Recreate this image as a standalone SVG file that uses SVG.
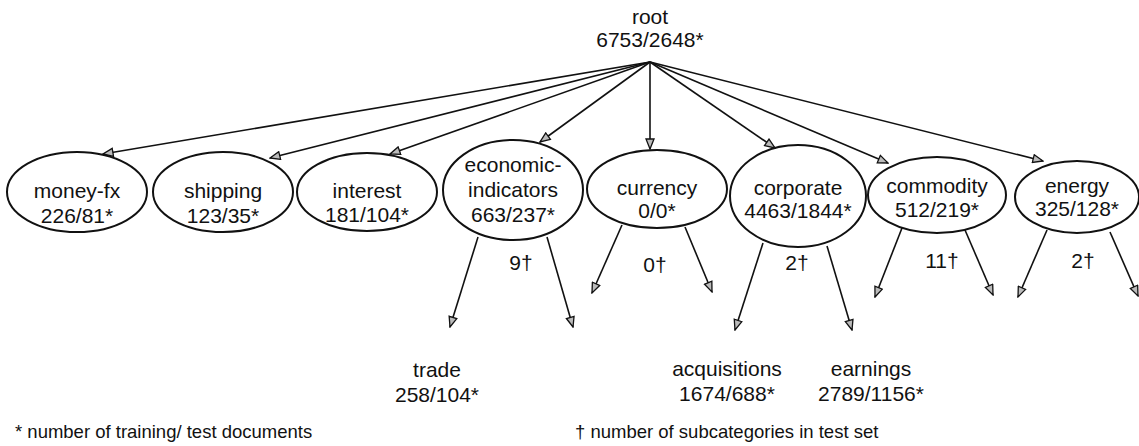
<svg xmlns="http://www.w3.org/2000/svg" width="1139" height="446" viewBox="0 0 1139 446">
<style>
text{font-family:"Liberation Sans",Arial,Helvetica,sans-serif;font-size:21px;fill:#111;text-anchor:middle}
.node ellipse{fill:none;stroke:#111;stroke-width:2}
.edge{stroke:#111;stroke-width:1.6;fill:none;marker-end:url(#tri)}
text.fn{text-anchor:start;font-size:18.5px}
</style>
<defs>
<marker id="tri" viewBox="0 0 12 10" refX="11" refY="5" markerWidth="12" markerHeight="10" markerUnits="userSpaceOnUse" orient="auto">
<path d="M1,1 L11,5 L1,9 Z" fill="#bbb" stroke="#111" stroke-width="1.3"/>
</marker>
</defs>
<rect width="1139" height="446" fill="#fff"/>
<g id="root"><text x="650" y="24">root</text><text x="650" y="47">6753/2648*</text></g>
<g id="connectors">
<line class="edge" x1="650" y1="62" x2="103" y2="154"/>
<line class="edge" x1="650" y1="62" x2="270" y2="158"/>
<line class="edge" x1="650" y1="62" x2="390" y2="154"/>
<line class="edge" x1="650" y1="62" x2="540" y2="142"/>
<line class="edge" x1="650" y1="62" x2="650" y2="149"/>
<line class="edge" x1="650" y1="62" x2="775" y2="148"/>
<line class="edge" x1="650" y1="62" x2="888" y2="163"/>
<line class="edge" x1="650" y1="62" x2="1043" y2="161"/>
<line class="edge" x1="478" y1="237" x2="450" y2="327"/>
<line class="edge" x1="547" y1="237" x2="573" y2="327"/>
<line class="edge" x1="622" y1="225" x2="592" y2="293"/>
<line class="edge" x1="685" y1="227" x2="712" y2="292"/>
<line class="edge" x1="763" y1="243" x2="735" y2="330"/>
<line class="edge" x1="827" y1="246" x2="852" y2="330"/>
<line class="edge" x1="902" y1="228" x2="875" y2="297"/>
<line class="edge" x1="965" y1="230" x2="993" y2="295"/>
<line class="edge" x1="1047" y1="230" x2="1018" y2="297"/>
<line class="edge" x1="1110" y1="232" x2="1138" y2="296"/>
</g>
<g id="money-fx" class="node"><ellipse cx="77" cy="192" rx="70" ry="40"/><text x="77" y="198">money-fx</text><text x="77" y="223">226/81*</text></g>
<g id="shipping" class="node"><ellipse cx="223" cy="192" rx="70" ry="40"/><text x="223" y="198">shipping</text><text x="223" y="223">123/35*</text></g>
<g id="interest" class="node"><ellipse cx="367" cy="192" rx="70" ry="39"/><text x="367" y="198">interest</text><text x="367" y="222">181/104*</text></g>
<g id="economic-indicators" class="node"><ellipse cx="513" cy="190" rx="70" ry="50"/><text x="513" y="172">economic-</text><text x="513" y="197">indicators</text><text x="513" y="222">663/237*</text></g>
<g id="currency" class="node"><ellipse cx="657" cy="189" rx="70" ry="39"/><text x="657" y="195">currency</text><text x="657" y="218">0/0*</text></g>
<g id="corporate" class="node"><ellipse cx="798" cy="196" rx="68" ry="51"/><text x="798" y="195">corporate</text><text x="798" y="218">4463/1844*</text></g>
<g id="commodity" class="node"><ellipse cx="937" cy="195" rx="69" ry="38"/><text x="937" y="193">commodity</text><text x="937" y="217">512/219*</text></g>
<g id="energy" class="node"><ellipse cx="1077" cy="197" rx="62" ry="36"/><text x="1077" y="193">energy</text><text x="1077" y="216">325/128*</text></g>
<g id="counts">
<text x="521" y="270">9†</text><text x="655" y="272">0†</text><text x="797" y="270">2†</text><text x="942" y="268">11†</text><text x="1083" y="268">2†</text>
</g>
<g id="trade"><text x="437" y="377">trade</text><text x="437" y="402">258/104*</text></g>
<g id="acquisitions"><text x="727" y="376">acquisitions</text><text x="727" y="401">1674/688*</text></g>
<g id="earnings"><text x="871" y="376">earnings</text><text x="871" y="401">2789/1156*</text></g>
<g id="legend"><text class="fn" x="15" y="438">* number of training/ test documents</text><text class="fn" x="575" y="438">† number of subcategories in test set</text></g>
</svg>
